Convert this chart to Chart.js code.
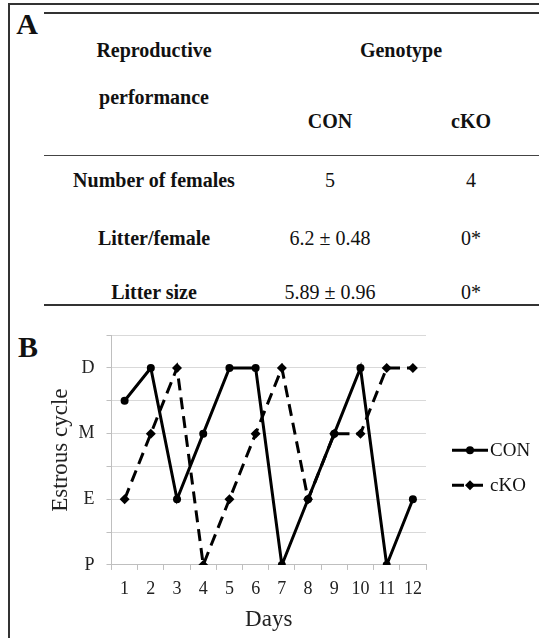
<!DOCTYPE html>
<html lang="en">
<head>
<meta charset="UTF-8">
<title>Reproductive performance and estrous cycle</title>
<script src="https://cdn.jsdelivr.net/npm/chart.js@4"></script>
<style>
	body { margin: 0; background: #fff; }
	#page { position: relative; width: 539px; height: 638px; overflow: hidden;
		font-family: "Liberation Serif", "Times New Roman", serif; color: #111; }
	.rule { position: absolute; background: #333; }
	.t { position: absolute; transform: translate(-50%, -50%); white-space: nowrap; font-size: 20px; }
	.b { font-weight: bold; }
	.panel { font-size: 30px; font-weight: bold; }
	#chartBox { position: absolute; left: 0; top: 320px; width: 539px; height: 318px; }
</style>
</head>
<body>
<div id="page">
	<!-- frame -->
	<div class="rule" style="left:8px; top:3px; width:2px; height:635px;"></div>
	<div class="rule" style="left:8px; top:3px; width:531px; height:2px;"></div>

	<!-- panel A : table -->
	<div class="t panel" style="left:27px; top:24px;">A</div>
	<div class="rule" style="left:44px; top:12px; width:495px; height:2px;"></div>
	<div class="rule" style="left:44px; top:155px; width:495px; height:1px; background:#444;"></div>
	<div class="rule" style="left:44px; top:304px; width:495px; height:2px;"></div>
	<div id="table"></div>

	<!-- panel B : chart -->
	<div class="t panel" style="left:28px; top:347px;">B</div>
	<div id="chartBox"><canvas id="cycleChart"></canvas></div>
</div>

<script>
	// ---- panel A data ----
	const rowNames = ['Number of females', 'Litter/female', 'Litter size'];
	const conValues = ['5', '6.2 \u00b1 0.48', '5.89 \u00b1 0.96'];
	const ckoValues = ['4', '0*', '0*'];
	const rowY = [180, 238, 292];

	// ---- panel B data ----
	const days = ['1', '2', '3', '4', '5', '6', '7', '8', '9', '10', '11', '12'];
	const stageLabels = ['P', 'E', 'M', 'D'];
	const conStage = [2.5, 3, 1, 2, 3, 3, 0, 1, 2, 3, 0, 1];
	const ckoStage = [1, 2, 3, 0, 1, 2, 3, 1, 2, 2, 3, 3];

	const serif = '"Liberation Serif", "Times New Roman", serif';

	// build the table text
	const table = document.getElementById('table');
	function cell(text, x, y, bold) {
		const d = document.createElement('div');
		d.className = 't' + (bold ? ' b' : '');
		d.style.left = x + 'px';
		d.style.top = y + 'px';
		d.textContent = text;
		table.appendChild(d);
	}
	cell('Reproductive', 154, 50, true);
	cell('performance', 154, 97, true);
	cell('Genotype', 401, 50, true);
	cell('CON', 330, 121, true);
	cell('cKO', 471, 121, true);
	rowNames.forEach((name, i) => {
		cell(name, 154, rowY[i], true);
		cell(conValues[i], 330, rowY[i], false);
		cell(ckoValues[i], 471, rowY[i], false);
	});

	// legend: line with marker in the middle, drawn next to the plot
	const sideLegend = {
		id: 'sideLegend',
		afterDraw(chart) {
			const c = chart.ctx;
			const a = chart.chartArea;
			const x0 = a.right + 26;
			chart.data.datasets.forEach((ds, i) => {
				const y = a.top + 115 + i * 35;
				c.save();
				c.strokeStyle = '#000';
				c.fillStyle = '#000';
				c.lineWidth = 3;
				c.setLineDash(ds.borderDash || []);
				c.beginPath();
				c.moveTo(x0, y);
				c.lineTo(x0 + 36, y);
				c.stroke();
				c.setLineDash([]);
				Chart.helpers.drawPoint(c, {
					pointStyle: ds.pointStyle, radius: ds.pointRadius, borderWidth: 0
				}, x0 + 18, y);
				c.fillStyle = '#111';
				c.font = '19px ' + serif;
				c.textBaseline = 'middle';
				c.fillText(ds.label, x0 + 38, y + 1);
				c.restore();
			});
		}
	};

	const cycleChart = new Chart(document.getElementById('cycleChart'), {
		type: 'line',
		data: {
			labels: days,
			datasets: [
				{
					label: 'CON',
					data: conStage,
					borderColor: '#000',
					backgroundColor: '#000',
					borderWidth: 3,
					pointStyle: 'circle',
					pointRadius: 4,
					pointBorderWidth: 0,
					pointBackgroundColor: '#000',
					tension: 0
				},
				{
					label: 'cKO',
					data: ckoStage,
					borderColor: '#000',
					backgroundColor: '#000',
					borderWidth: 3,
					borderDash: [12, 7],
					pointStyle: 'rectRot',
					pointRadius: 5,
					pointBorderWidth: 0,
					pointBackgroundColor: '#000',
					tension: 0
				}
			]
		},
		options: {
			responsive: true,
			maintainAspectRatio: false,
			animation: false,
			layout: { padding: { left: 51, right: 113, top: 5, bottom: 5 } },
			plugins: {
				legend: { display: false },
				tooltip: { enabled: false }
			},
			scales: {
				x: {
					offset: true,
					grid: {
						offset: true,
						drawOnChartArea: true,
						color: (ctx) => ctx.index === days.length ? '#d9d9d9' : 'rgba(0,0,0,0)',
						tickColor: '#bfbfbf',
						tickLength: 5
					},
					border: { color: '#bfbfbf', width: 1 },
					ticks: {
						color: '#222',
						padding: 9,
						font: { family: serif, size: 18 }
					},
					title: {
						display: true,
						text: 'Days',
						color: '#222',
						padding: { top: 2.2, bottom: 4 },
						font: { family: serif, size: 23, lineHeight: 0.75 }
					}
				},
				y: {
					min: 0,
					max: 3.5,
					grid: {
						color: '#d9d9d9',
						tickColor: '#bfbfbf',
						tickLength: 5
					},
					border: { color: '#bfbfbf', width: 1 },
					ticks: {
						stepSize: 0.5,
						autoSkip: false,
						color: '#222',
						padding: 12,
						font: { family: serif, size: 18, lineHeight: 0.35 },
						callback: (v) => Number.isInteger(v) ? (stageLabels[v] || '') : ''
					},
					title: {
						display: true,
						text: 'Estrous cycle',
						color: '#222',
						padding: { top: 4, bottom: 0 },
						font: { family: serif, size: 23, lineHeight: 0.5 }
					}
				}
			}
		},
		plugins: [sideLegend]
	});
</script>
</body>
</html>
